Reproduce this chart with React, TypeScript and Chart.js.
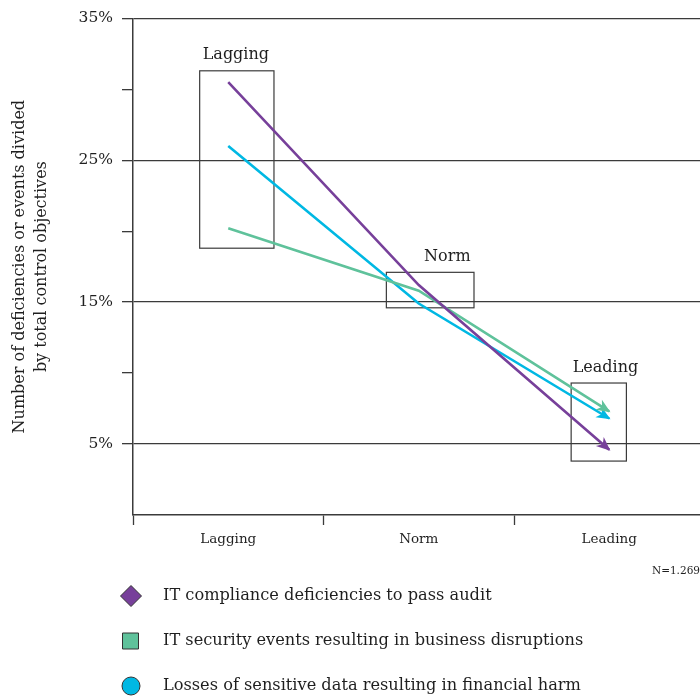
import React, { useEffect, useRef } from "react";
import { Chart, registerables } from "chart.js";

Chart.register(...registerables);

// ---- data ----
const CATEGORIES = ["Lagging", "Norm", "Leading"];

const SERIES_NAMES = [
  "IT compliance deficiencies to pass audit",
  "IT security events resulting in business disruptions",
  "Losses of sensitive data resulting in financial harm",
];
const COMPLIANCE_DEFICIENCIES = [30.5, 16.2, 4.6];
const SECURITY_EVENTS = [20.2, 15.8, 7.3];
const DATA_LOSSES = [26.0, 14.9, 6.8];

const SERIES_COLORS = ["#77409a", "#5fc29b", "#00b8e3"];
const LEGEND_SHAPES = ["diamond", "square", "circle"];

const Y_LABELED_TICKS = [5, 15, 25, 35];
const Y_TITLE = ["Number of deficiencies or events divided", "by total control objectives"];

// performance bands (x in category units, y in percent)
const BAND_NAMES = ["Lagging", "Norm", "Leading"];
const BAND_X_START = [-0.15, 0.83, 1.8];
const BAND_X_END = [0.24, 1.29, 2.09];
const BAND_Y_LOW = [18.8, 14.6, 3.8];
const BAND_Y_HIGH = [31.3, 17.1, 9.3];
const BAND_LABEL_X = [0.04, 1.15, 1.98];
const BAND_LABEL_Y = [32.4, 18.2, 10.4];

const SAMPLE_NOTE = "N=1.269";

const SERIF = '"DejaVu Serif", serif';
const INK = "#3b3b3b";
const TEXT = "#1f1f1f";

const bandsPlugin = {
  id: "bands",
  beforeDatasetsDraw(chart: any) {
    const { ctx, scales } = chart;
    const x = scales.x;
    const y = scales.y;
    ctx.save();
    ctx.strokeStyle = INK;
    ctx.lineWidth = 1.2;
    for (let i = 0; i < BAND_NAMES.length; i++) {
      const x0 = x.getPixelForValue(BAND_X_START[i]);
      const x1 = x.getPixelForValue(BAND_X_END[i]);
      const y0 = y.getPixelForValue(BAND_Y_HIGH[i]);
      const y1 = y.getPixelForValue(BAND_Y_LOW[i]);
      ctx.strokeRect(x0, y0, x1 - x0, y1 - y0);
    }
    ctx.fillStyle = TEXT;
    ctx.font = `16px ${SERIF}`;
    ctx.textAlign = "center";
    ctx.textBaseline = "middle";
    for (let i = 0; i < BAND_NAMES.length; i++) {
      ctx.fillText(
        BAND_NAMES[i],
        x.getPixelForValue(BAND_LABEL_X[i]),
        y.getPixelForValue(BAND_LABEL_Y[i])
      );
    }
    ctx.restore();
  },
};

const arrowPlugin = {
  id: "arrowHeads",
  afterDatasetDraw(chart: any, args: any) {
    const meta = args.meta;
    const pts = meta.data;
    if (!pts || pts.length < 2) return;
    const a = pts[pts.length - 2];
    const b = pts[pts.length - 1];
    const ang = Math.atan2(b.y - a.y, b.x - a.x);
    const { ctx } = chart;
    const len = 14;
    const half = 6;
    const notch = 4;
    const tipX = b.x + Math.cos(ang) * 1.5;
    const tipY = b.y + Math.sin(ang) * 1.5;
    ctx.save();
    ctx.translate(tipX, tipY);
    ctx.rotate(ang);
    ctx.beginPath();
    ctx.moveTo(0, 0);
    ctx.lineTo(-len, -half);
    ctx.lineTo(-len + notch, 0);
    ctx.lineTo(-len, half);
    ctx.closePath();
    ctx.fillStyle = chart.data.datasets[args.index].borderColor;
    ctx.fill();
    ctx.restore();
  },
};

const legendPlugin = {
  id: "sideLegend",
  afterDraw(chart: any) {
    const { ctx } = chart;
    ctx.save();
    // sample size note
    ctx.fillStyle = TEXT;
    ctx.font = `10.5px ${SERIF}`;
    ctx.textAlign = "right";
    ctx.textBaseline = "middle";
    ctx.fillText(SAMPLE_NOTE, 700, 571);

    const rowY = [596, 641, 686];
    const markerX = 131;
    ctx.font = `16.2px ${SERIF}`;
    ctx.textAlign = "left";
    chart.data.datasets.forEach((ds: any, i: number) => {
      const cy = rowY[i];
      ctx.beginPath();
      const shape = LEGEND_SHAPES[i];
      if (shape === "diamond") {
        ctx.moveTo(markerX, cy - 10.5);
        ctx.lineTo(markerX + 10.5, cy);
        ctx.lineTo(markerX, cy + 10.5);
        ctx.lineTo(markerX - 10.5, cy);
        ctx.closePath();
      } else if (shape === "square") {
        ctx.rect(markerX - 8.5, cy - 8, 16, 16);
      } else {
        ctx.arc(markerX, cy, 9, 0, Math.PI * 2);
      }
      ctx.fillStyle = ds.borderColor;
      ctx.fill();
      ctx.strokeStyle = "#333";
      ctx.lineWidth = 1;
      ctx.stroke();
      ctx.fillStyle = TEXT;
      ctx.fillText(ds.label, 163, cy);
    });
    ctx.restore();
  },
};

export default function App() {
  const canvasRef = useRef<HTMLCanvasElement | null>(null);

  useEffect(() => {
    const canvas = canvasRef.current;
    if (!canvas) return;
    const values = [COMPLIANCE_DEFICIENCIES, SECURITY_EVENTS, DATA_LOSSES];
    const chart = new Chart(canvas, {
      type: "line",
      data: {
        labels: CATEGORIES,
        datasets: values.map((v, i) => ({
          label: SERIES_NAMES[i],
          data: v,
          borderColor: SERIES_COLORS[i],
          backgroundColor: SERIES_COLORS[i],
          borderWidth: 2.6,
          pointRadius: 0,
          pointHoverRadius: 0,
          tension: 0,
          fill: false,
        })),
      },
      options: {
        responsive: false,
        animation: false,
        events: [],
        layout: { padding: { left: 0, right: 7.5, top: 16, bottom: 0 } },
        plugins: {
          legend: { display: false },
          tooltip: { enabled: false },
        },
        scales: {
          x: {
            type: "category",
            offset: true,
            grid: {
              offset: true,
              drawOnChartArea: false,
              drawTicks: true,
              tickLength: 10,
              tickColor: INK,
              tickWidth: 1.3,
            },
            border: { display: true, color: INK, width: 1.5 },
            ticks: {
              font: { family: SERIF, size: 13.5 },
              color: TEXT,
              padding: 6,
              maxRotation: 0,
            },
            afterFit(scale: any) {
              scale.height = 183;
            },
          },
          y: {
            min: 0,
            max: 35,
            grid: {
              color: (c: any) =>
                Y_LABELED_TICKS.includes(c.tick?.value) ? INK : "rgba(0,0,0,0)",
              tickColor: (c: any) => (c.tick?.value === 0 ? "rgba(0,0,0,0)" : INK),
              lineWidth: 1.3,
              tickWidth: 1.3,
              tickLength: 11,
            },
            border: { display: true, color: INK, width: 1.5 },
            ticks: {
              stepSize: 5,
              autoSkip: false,
              font: { family: SERIF, size: 15.5 },
              color: TEXT,
              padding: 9,
              callback: (v: any) => (Y_LABELED_TICKS.includes(Number(v)) ? `${v}%` : ""),
            },
            title: {
              display: true,
              text: Y_TITLE,
              font: { family: SERIF, size: 16, lineHeight: 1.375 },
              color: TEXT,
              padding: { top: 9, bottom: 0 },
            },
            afterFit(scale: any) {
              scale.width = 133;
            },
          },
        },
      },
      plugins: [bandsPlugin, arrowPlugin, legendPlugin],
    });
    return () => chart.destroy();
  }, []);

  return (
    <div
      style={{
        position: "fixed",
        left: 0,
        top: 0,
        width: 700,
        height: 698,
        overflow: "hidden",
        background: "#fff",
      }}
    >
      <canvas ref={canvasRef} width={712} height={698} style={{ width: 712, height: 698, display: "block" }} />
    </div>
  );
}
